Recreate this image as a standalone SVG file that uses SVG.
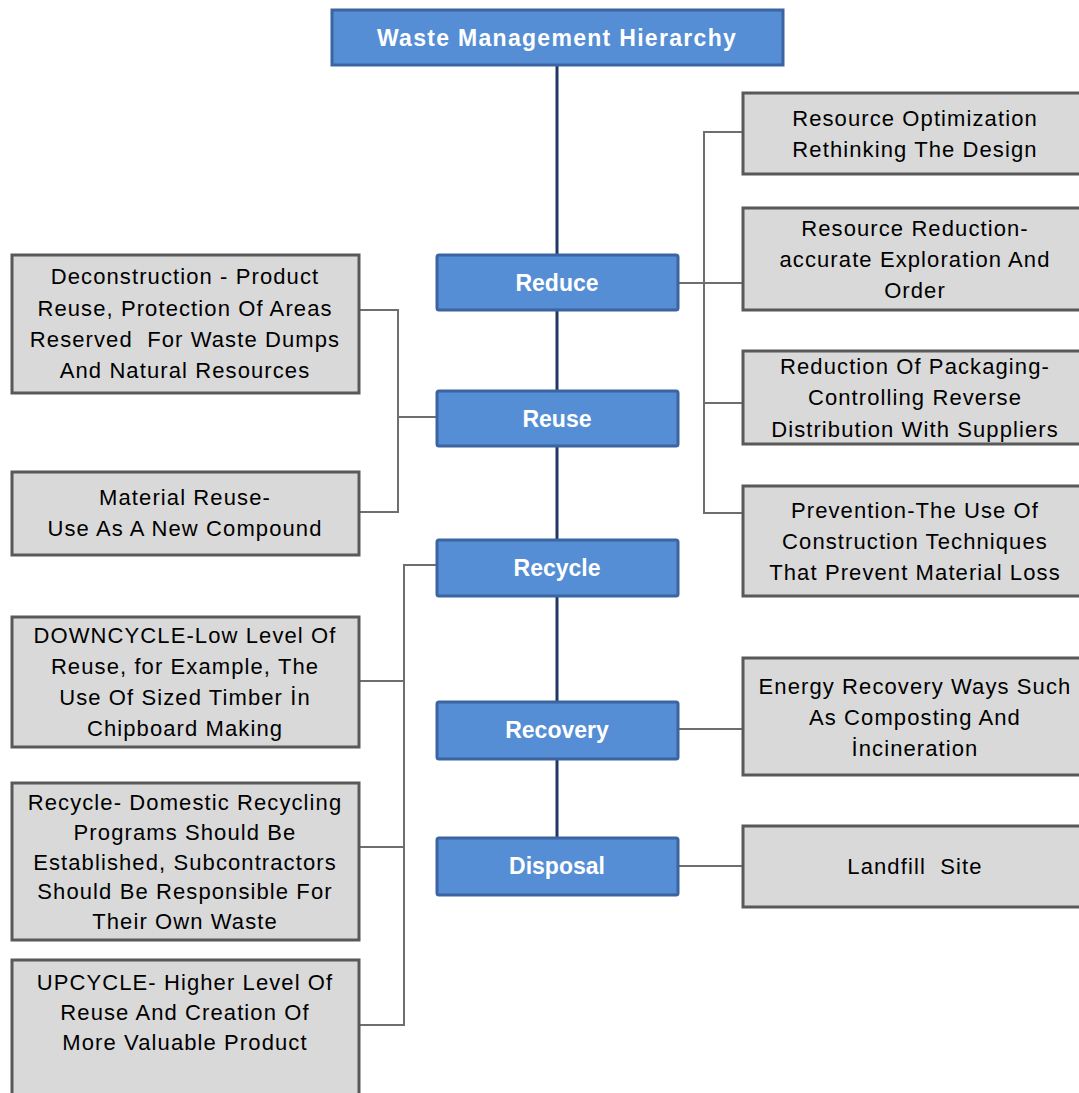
<svg xmlns="http://www.w3.org/2000/svg" width="1079" height="1093" viewBox="0 0 1079 1093">
<style>
.blue{fill:#558ED5;stroke:#3B64A0;stroke-width:3}
.gray{fill:#D9D9D9;stroke:#595959;stroke-width:3}
.bt{font-family:"Liberation Sans",Arial,sans-serif;font-weight:bold;fill:#FFFFFF;text-anchor:middle;font-size:23px}
.gt{font-family:"Liberation Sans",Arial,sans-serif;fill:#000000;text-anchor:middle;font-size:22px;letter-spacing:1.1px;white-space:pre}
.main{stroke:#1F3864;stroke-width:3;fill:none}
.br{stroke:#6E6E6E;stroke-width:2;fill:none}
</style>
<rect width="1079" height="1093" fill="#FFFFFF"/>
<g id="connectors">
<line class="main" x1="557" y1="66" x2="557" y2="838"/>
<polyline class="br" points="743,132 704,132 704,513 743,513"/>
<line class="br" x1="678" y1="283" x2="743" y2="283"/>
<line class="br" x1="704" y1="403" x2="743" y2="403"/>
<polyline class="br" points="359,310 398,310 398,512 359,512"/>
<line class="br" x1="398" y1="417" x2="437" y2="417"/>
<polyline class="br" points="437,565 404,565 404,1025 359,1025"/>
<line class="br" x1="359" y1="681" x2="404" y2="681"/>
<line class="br" x1="359" y1="847" x2="404" y2="847"/>
<line class="br" x1="678" y1="729" x2="743" y2="729"/>
<line class="br" x1="678" y1="866" x2="743" y2="866"/>
</g>
<g id="title">
<rect class="blue" x="332" y="10" width="451" height="55"/>
<text class="bt" x="557" y="46" font-size="24" letter-spacing="1.3">Waste Management Hierarchy</text>
</g>
<g id="reduce">
<rect class="blue" x="437" y="255" width="241" height="55" rx="2"/>
<text class="bt" x="557" y="291">Reduce</text>
</g>
<g id="reuse">
<rect class="blue" x="437" y="391" width="241" height="55" rx="2"/>
<text class="bt" x="557" y="427">Reuse</text>
</g>
<g id="recycle">
<rect class="blue" x="437" y="540" width="241" height="56" rx="2"/>
<text class="bt" x="557" y="576">Recycle</text>
</g>
<g id="recovery">
<rect class="blue" x="437" y="702" width="241" height="57" rx="2"/>
<text class="bt" x="557" y="738">Recovery</text>
</g>
<g id="disposal">
<rect class="blue" x="437" y="838" width="241" height="57" rx="2"/>
<text class="bt" x="557" y="874">Disposal</text>
</g>
<g id="resource-optimization">
<rect class="gray" x="743" y="93" width="345" height="81"/>
<text class="gt" x="915" y="126">Resource Optimization</text>
<text class="gt" x="915" y="157">Rethinking The Design</text>
</g>
<g id="resource-reduction">
<rect class="gray" x="743" y="208" width="345" height="102"/>
<text class="gt" x="915" y="236">Resource Reduction-</text>
<text class="gt" x="915" y="267">accurate Exploration And</text>
<text class="gt" x="915" y="298">Order</text>
</g>
<g id="packaging">
<rect class="gray" x="743" y="351" width="345" height="93"/>
<text class="gt" x="915" y="374">Reduction Of Packaging-</text>
<text class="gt" x="915" y="405">Controlling Reverse</text>
<text class="gt" x="915" y="437">Distribution With Suppliers</text>
</g>
<g id="prevention">
<rect class="gray" x="743" y="486" width="345" height="110"/>
<text class="gt" x="915" y="518">Prevention-The Use Of</text>
<text class="gt" x="915" y="549">Construction Techniques</text>
<text class="gt" x="915" y="580">That Prevent Material Loss</text>
</g>
<g id="energy-recovery">
<rect class="gray" x="743" y="658" width="345" height="117"/>
<text class="gt" x="915" y="694">Energy Recovery Ways Such</text>
<text class="gt" x="915" y="725">As Composting And</text>
<text class="gt" x="915" y="756">İncineration</text>
</g>
<g id="landfill">
<rect class="gray" x="743" y="826" width="345" height="81"/>
<text class="gt" x="915" y="874">Landfill  Site</text>
</g>
<g id="deconstruction">
<rect class="gray" x="12" y="255" width="347" height="138"/>
<text class="gt" x="185" y="284">Deconstruction - Product</text>
<text class="gt" x="185" y="316">Reuse, Protection Of Areas</text>
<text class="gt" x="185" y="347">Reserved  For Waste Dumps</text>
<text class="gt" x="185" y="378">And Natural Resources</text>
</g>
<g id="material-reuse">
<rect class="gray" x="12" y="472" width="347" height="83"/>
<text class="gt" x="185" y="505">Material Reuse-</text>
<text class="gt" x="185" y="536">Use As A New Compound</text>
</g>
<g id="downcycle">
<rect class="gray" x="12" y="617" width="347" height="130"/>
<text class="gt" x="185" y="643">DOWNCYCLE-Low Level Of</text>
<text class="gt" x="185" y="674">Reuse, for Example, The</text>
<text class="gt" x="185" y="705">Use Of Sized Timber İn</text>
<text class="gt" x="185" y="736">Chipboard Making</text>
</g>
<g id="recycle-domestic">
<rect class="gray" x="12" y="783" width="347" height="157"/>
<text class="gt" x="185" y="810">Recycle- Domestic Recycling</text>
<text class="gt" x="185" y="840">Programs Should Be</text>
<text class="gt" x="185" y="870">Established, Subcontractors</text>
<text class="gt" x="185" y="899">Should Be Responsible For</text>
<text class="gt" x="185" y="929">Their Own Waste</text>
</g>
<g id="upcycle">
<rect class="gray" x="12" y="960" width="347" height="145"/>
<text class="gt" x="185" y="990">UPCYCLE- Higher Level Of</text>
<text class="gt" x="185" y="1020">Reuse And Creation Of</text>
<text class="gt" x="185" y="1050">More Valuable Product</text>
</g>
</svg>
